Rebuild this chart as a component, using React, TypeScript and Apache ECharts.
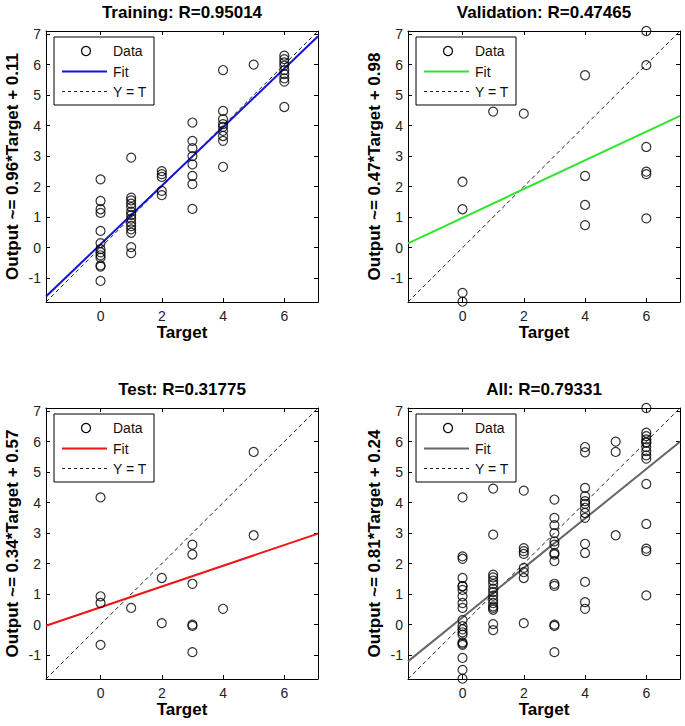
import React, { useEffect, useRef } from "react";
import * as echarts from "echarts";

// Axis limits and ticks (shared by all four panels)
const AXIS_MIN = -1.78;
const AXIS_MAX = 7.1;
const xTickValues = [0, 2, 4, 6];
const yTickValues = [-1, 0, 1, 2, 3, 4, 5, 6, 7];

// Training data
const trainingTargets = [
  0, 0, 0, 0, 0, 0, 0, 0, 0, 0, 0, 0, 0,
  1, 1, 1, 1, 1, 1, 1, 1, 1, 1, 1, 1, 1, 1,
  2, 2, 2, 2, 2,
  3, 3, 3, 3, 3, 3, 3, 3,
  4, 4, 4, 4, 4, 4, 4, 4, 4,
  5,
  6, 6, 6, 6, 6, 6, 6, 6, 6,
];
const trainingOutputs = [
  2.24, 1.53, 1.26, 1.14, 0.55, 0.15, -0.05, -0.15, -0.25, -0.33, -0.58, -0.62, -1.09,
  2.95, 1.64, 1.55, 1.44, 1.33, 1.18, 1.07, 0.95, 0.82, 0.71, 0.6, 0.49, 0.02, -0.18,
  2.51, 2.41, 2.32, 1.86, 1.72,
  4.1, 3.5, 3.26, 3.0, 2.73, 2.35, 2.08, 1.27,
  5.82, 4.48, 4.21, 4.05, 3.96, 3.83, 3.66, 3.5, 2.65,
  6.0,
  6.29, 6.18, 6.07, 5.96, 5.82, 5.69, 5.55, 5.44, 4.61,
];

// Validation data
const validationTargets = [0, 0, 0, 0, 1, 2, 4, 4, 4, 4, 6, 6, 6, 6, 6, 6];
const validationOutputs = [2.16, 1.26, -1.48, -1.77, 4.46, 4.39, 5.65, 2.35, 1.4, 0.74, 7.1, 5.98, 3.3, 2.49, 2.41, 0.96];

// Test data
const testTargets = [0, 0, 0, 0, 1, 2, 2, 3, 3, 3, 3, 3, 3, 4, 5, 5];
const testOutputs = [4.17, 0.93, 0.71, -0.66, 0.55, 1.53, 0.05, 2.62, 2.3, 1.34, 0.0, -0.04, -0.9, 0.52, 5.66, 2.93];

// Regression results
const panelTitles = ["Training: R=0.95014", "Validation: R=0.47465", "Test: R=0.31775", "All: R=0.79331"];
const fitSlopes = [0.96, 0.47, 0.34, 0.81];
const fitIntercepts = [0.11, 0.98, 0.57, 0.24];
const yAxisNames = [
  "Output ~= 0.96*Target + 0.11",
  "Output ~= 0.47*Target + 0.98",
  "Output ~= 0.34*Target + 0.57",
  "Output ~= 0.81*Target + 0.24",
];
const fitColors = ["#1414d6", "#2ee62e", "#ee1515", "#666666"];

const FONT = "'Liberation Sans', Arial, Helvetica, sans-serif";

const gridBoxes = [
  { left: 46, top: 31, width: 272, height: 271 },
  { left: 408, top: 31, width: 272, height: 271 },
  { left: 46, top: 408, width: 272, height: 271 },
  { left: 408, top: 408, width: 272, height: 271 },
];

function pairs(t: number[], o: number[]) {
  return t.map((v, i) => [v, o[i]]);
}

export default function App() {
  const ref = useRef<HTMLDivElement>(null);

  useEffect(() => {
    if (!ref.current) return;
    const chart = echarts.init(ref.current, undefined, { renderer: "svg" });

    const allTargets = [...trainingTargets, ...validationTargets, ...testTargets];
    const allOutputs = [...trainingOutputs, ...validationOutputs, ...testOutputs];
    const datasets = [
      pairs(trainingTargets, trainingOutputs),
      pairs(validationTargets, validationOutputs),
      pairs(testTargets, testOutputs),
      pairs(allTargets, allOutputs),
    ];

    const grid: any[] = [];
    const xAxis: any[] = [];
    const yAxis: any[] = [];
    const series: any[] = [];
    const graphic: any[] = [];

    gridBoxes.forEach((g, i) => {
      grid.push({ ...g, containLabel: false, show: false });
      const tickCommon = {
        show: true,
        inside: true,
        length: 4,
        lineStyle: { color: "#000", width: 1 },
      };
      const lineCommon = { show: true, onZero: false, lineStyle: { color: "#000", width: 1 } };
      xAxis.push({
        type: "value",
        gridIndex: i,
        min: AXIS_MIN,
        max: AXIS_MAX,
        position: "bottom",
        axisLine: lineCommon,
        axisTick: { ...tickCommon, customValues: xTickValues },
        axisLabel: { customValues: xTickValues, fontSize: 14, color: "#222", margin: 7, fontFamily: FONT },
        splitLine: { show: false },
        name: "Target",
        nameLocation: "middle",
        nameGap: 21,
        nameTextStyle: { fontSize: 17, fontWeight: "bold", color: "#000", fontFamily: FONT },
      });
      xAxis.push({
        type: "value",
        gridIndex: i,
        min: AXIS_MIN,
        max: AXIS_MAX,
        position: "top",
        axisLine: lineCommon,
        axisTick: { ...tickCommon, customValues: xTickValues },
        axisLabel: { show: false },
        splitLine: { show: false },
      });
      yAxis.push({
        type: "value",
        gridIndex: i,
        min: AXIS_MIN,
        max: AXIS_MAX,
        position: "left",
        axisLine: lineCommon,
        axisTick: { ...tickCommon, customValues: yTickValues },
        axisLabel: { customValues: yTickValues, fontSize: 14, color: "#222", margin: 5, fontFamily: FONT },
        splitLine: { show: false },
        name: yAxisNames[i],
        nameLocation: "middle",
        nameGap: 25,
        nameTextStyle: { fontSize: 17, fontWeight: "bold", color: "#000", fontFamily: FONT },
      });
      yAxis.push({
        type: "value",
        gridIndex: i,
        min: AXIS_MIN,
        max: AXIS_MAX,
        position: "right",
        axisLine: lineCommon,
        axisTick: { ...tickCommon, customValues: yTickValues },
        axisLabel: { show: false },
        splitLine: { show: false },
      });

      series.push({
        type: "line",
        name: "Y = T",
        xAxisIndex: 2 * i,
        yAxisIndex: 2 * i,
        data: [
          [AXIS_MIN, AXIS_MIN],
          [AXIS_MAX, AXIS_MAX],
        ],
        showSymbol: false,
        symbol: "none",
        lineStyle: { color: "#222", width: 1, type: [4, 3] },
        z: 2,
      });
      series.push({
        type: "line",
        name: "Fit",
        xAxisIndex: 2 * i,
        yAxisIndex: 2 * i,
        data: [
          [AXIS_MIN, fitSlopes[i] * AXIS_MIN + fitIntercepts[i]],
          [AXIS_MAX, fitSlopes[i] * AXIS_MAX + fitIntercepts[i]],
        ],
        showSymbol: false,
        symbol: "none",
        lineStyle: { color: fitColors[i], width: 2 },
        z: 3,
      });
      series.push({
        type: "scatter",
        name: "Data",
        xAxisIndex: 2 * i,
        yAxisIndex: 2 * i,
        data: datasets[i],
        symbol: "circle",
        symbolSize: 9,
        clip: false,
        itemStyle: { color: "rgba(0,0,0,0)", borderColor: "#000", borderWidth: 1.2 },
        z: 4,
      });

      // Title
      graphic.push({
        type: "text",
        x: g.left + g.width / 2,
        y: g.top - 19,
        style: {
          text: panelTitles[i],
          font: `bold 17px ${FONT}`,
          fill: "#000",
          align: "center",
          verticalAlign: "middle",
        },
        z: 10,
      });

      // Legend box
      graphic.push({
        type: "group",
        x: g.left + 8,
        y: g.top + 6,
        z: 10,
        children: [
          {
            type: "rect",
            shape: { x: 0, y: 0, width: 100, height: 68 },
            style: { fill: "#fff", stroke: "#000", lineWidth: 1 },
          },
          {
            type: "circle",
            shape: { cx: 32, cy: 14, r: 4.5 },
            style: { fill: "none", stroke: "#000", lineWidth: 1.2 },
          },
          {
            type: "text",
            x: 59,
            y: 14,
            style: { text: "Data", font: `14px ${FONT}`, fill: "#111", verticalAlign: "middle" },
          },
          {
            type: "line",
            shape: { x1: 8, y1: 34.5, x2: 53, y2: 34.5 },
            style: { stroke: fitColors[i], lineWidth: 2 },
          },
          {
            type: "text",
            x: 59,
            y: 34.5,
            style: { text: "Fit", font: `14px ${FONT}`, fill: "#111", verticalAlign: "middle" },
          },
          {
            type: "line",
            shape: { x1: 8, y1: 54.5, x2: 53, y2: 54.5 },
            style: { stroke: "#222", lineWidth: 1, lineDash: [3, 3] },
          },
          {
            type: "text",
            x: 59,
            y: 54.5,
            style: { text: "Y = T", font: `14px ${FONT}`, fill: "#111", verticalAlign: "middle" },
          },
        ],
      });
    });

    chart.setOption({
      animation: false,
      backgroundColor: "#fff",
      textStyle: { fontFamily: FONT },
      grid,
      xAxis,
      yAxis,
      series,
      graphic,
    });

    return () => chart.dispose();
  }, []);

  return (
    <div
      ref={ref}
      style={{ position: "absolute", left: 0, top: 0, width: 685, height: 726, background: "#fff" }}
    />
  );
}
